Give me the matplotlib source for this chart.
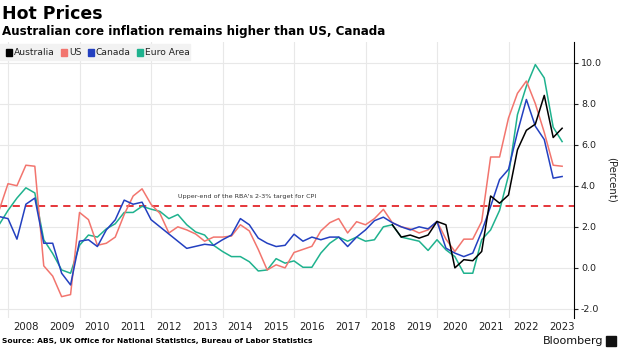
import matplotlib.pyplot as plt
from matplotlib.patches import Rectangle
import numpy as np

# quarterly observations, year fractions
quarters = np.arange(2007.75, 2023.51, 0.25)
aus_quarters = np.arange(2018.75, 2023.51, 0.25)

us = [2.8,
      4.1, 4.0, 5.0, 4.95,
      0.1, -0.4, -1.4, -1.3,
      2.7, 2.35, 1.1, 1.2,
      1.5, 2.6, 3.5, 3.85,
      3.1, 2.65, 1.7, 2.0,
      1.85, 1.65, 1.3, 1.5,
      1.5, 1.55, 2.1, 1.8,
      0.9, -0.1, 0.15, 0.0,
      0.75, 0.9, 1.05, 1.8,
      2.2, 2.4, 1.7, 2.25,
      2.1, 2.4, 2.85, 2.2,
      2.0, 1.9, 1.7, 1.85,
      2.26, 1.4, 0.8, 1.4,
      1.4, 2.26, 5.4, 5.4,
      7.3, 8.5, 9.1, 8.0,
      6.6, 5.0, 4.95]

canada = [2.5,
          2.4, 1.4, 3.1, 3.4,
          1.2, 1.2, -0.26, -0.83,
          1.3, 1.37, 1.04, 1.85,
          2.34, 3.3, 3.1, 3.2,
          2.35, 2.0, 1.65, 1.3,
          0.95, 1.05, 1.15, 1.1,
          1.37, 1.6, 2.4, 2.1,
          1.45, 1.2, 1.04, 1.1,
          1.64, 1.3, 1.5, 1.37,
          1.5, 1.5, 1.04, 1.5,
          1.85, 2.3, 2.47, 2.2,
          2.0, 1.85, 2.0, 1.9,
          2.26, 0.96, 0.72, 0.55,
          0.72, 1.77, 3.0, 4.3,
          4.8, 6.6, 8.2, 6.9,
          6.25, 4.37, 4.45]

euro = [2.1,
        2.8, 3.4, 3.9, 3.65,
        1.37, 0.7, -0.1, -0.26,
        1.1, 1.6, 1.5, 1.9,
        2.15, 2.7, 2.7, 3.0,
        2.86, 2.75, 2.4, 2.6,
        2.1, 1.75, 1.6, 1.1,
        0.8, 0.55, 0.55, 0.3,
        -0.15, -0.1, 0.45, 0.23,
        0.34, 0.03, 0.03, 0.72,
        1.2, 1.5, 1.3, 1.5,
        1.3, 1.37, 2.0, 2.1,
        1.5, 1.4, 1.3, 0.85,
        1.37, 0.88, 0.55, -0.26,
        -0.26, 1.37, 1.85, 2.8,
        4.5, 7.46, 8.85, 9.9,
        9.25, 6.85, 6.15]

australia = [2.1,
             1.5, 1.6, 1.45, 1.6,
             2.26, 2.1, 0.0, 0.4,
             0.35, 0.8, 3.5, 3.15,
             3.55, 5.75, 6.7, 7.0,
             8.4, 6.35, 6.8]

series_names = ['Australia', 'US', 'Canada', 'Euro Area']
series_colors = ['#000000', '#f2756e', '#2340c0', '#1fb28e']
years = list(range(2008, 2024))
yticks = [-2, 0, 2, 4, 6, 8, 10]
target = 3.0

W, H = 620, 348
fig = plt.figure(figsize=(6.2, 3.48), dpi=100)


def fx(px):
    return px / W


def fy(py):
    return 1 - py / H


ax = fig.add_axes([0, fy(318), fx(574), (318 - 42) / H])
ax.set_xlim(2007.776, 2023.832)
ax.set_ylim(-2.44, 11.0)

# grid
for y in yticks:
    ax.axhline(y, color='#e8e8e8', lw=0.8, zorder=0)
for yr in years[::2]:
    ax.axvline(yr, color='#e8e8e8', lw=0.8, zorder=0)

ax.axhline(target, color='#e3262b', lw=1.3, ls=(0, (4, 3)), zorder=1)
ax.text(2012.755, 3.48, "Upper-end of the RBA's 2-3% target for CPI",
        fontsize=4.6, color='#333333', va='center', ha='left')

ax.plot(quarters, euro, color=series_colors[3], lw=1.1, zorder=2)
ax.plot(quarters, canada, color=series_colors[2], lw=1.1, zorder=3)
ax.plot(quarters, us, color=series_colors[1], lw=1.1, zorder=2)
ax.plot(aus_quarters, australia, color=series_colors[0], lw=1.1, zorder=4)

for s in ['left', 'top', 'bottom']:
    ax.spines[s].set_visible(False)
ax.spines['right'].set_linewidth(0.8)

ax.yaxis.tick_right()
ax.set_yticks(yticks)
ax.set_yticklabels(['%.1f' % v for v in yticks])
ax.tick_params(axis='y', length=3, width=0.8, pad=2, labelsize=6.8,
               colors='#222222')
ax.set_xticks([y + 0.5 for y in years])
ax.set_xticklabels([str(y) for y in years])
ax.tick_params(axis='x', length=0, pad=3, labelsize=7.3, colors='#222222')

fig.text(fx(612), fy(180), '(Percent)', rotation=270, fontsize=7.3,
         ha='center', va='center', color='#222222')

# titles
fig.text(fx(2), fy(14), 'Hot Prices', fontsize=12.5, fontweight='bold',
         ha='left', va='center')
fig.text(fx(2), fy(31), 'Australian core inflation remains higher than US, Canada',
         fontsize=8.6, fontweight='bold', ha='left', va='center')

# legend
fig.patches.append(Rectangle((0, fy(60)), fx(190), (60 - 44) / H,
                             transform=fig.transFigure, color='#f2f2f2',
                             zorder=0))
legend_x = [6, 61, 88, 137]
for name, col, lx in zip(series_names, series_colors, legend_x):
    fig.patches.append(Rectangle((fx(lx), fy(55.5)), fx(6), 6 / H,
                                 transform=fig.transFigure, color=col))
    fig.text(fx(lx + 8), fy(52.5), name, fontsize=6.6, ha='left', va='center',
             color='#222222')

# footer
fig.text(fx(2), fy(341), 'Source: ABS, UK Office for National Statistics, '
         'Bureau of Labor Statistics', fontsize=5.4, fontweight='bold',
         ha='left', va='center')
fig.text(fx(603), fy(341), 'Bloomberg', fontsize=8, ha='right', va='center',
         color='#111111')
fig.patches.append(Rectangle((fx(606), fy(346)), fx(10), 10 / H,
                             transform=fig.transFigure, color='#111111'))

fig.savefig('out.png', dpi=100)
